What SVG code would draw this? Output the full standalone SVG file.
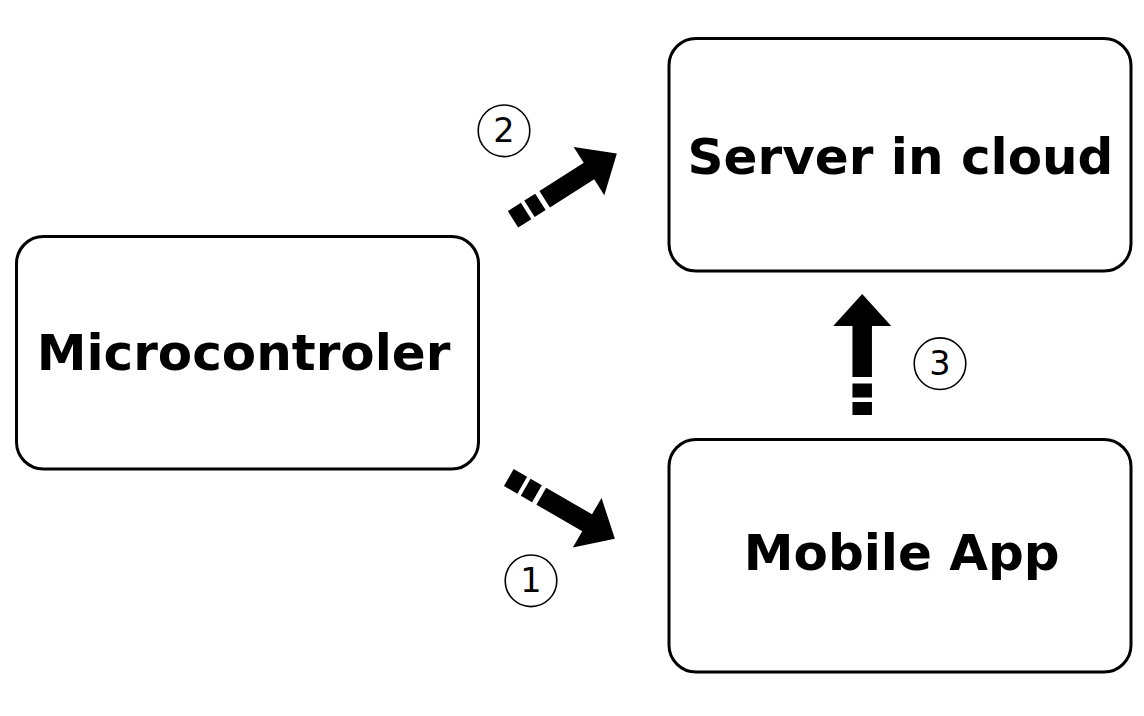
<svg xmlns="http://www.w3.org/2000/svg" width="1144" height="716" viewBox="0 0 1144 716">
<style>
.box{fill:#fff;stroke:#000;stroke-width:3}
.lbl{font-family:"DejaVu Sans",sans-serif;font-weight:bold;font-size:50px;text-anchor:middle;fill:#000}
.ring{fill:none;stroke:#000;stroke-width:1.6}
.num{font-family:"DejaVu Sans",sans-serif;font-size:33.5px;text-anchor:middle;fill:#000}
.shaft{fill:none;stroke:#000;stroke-width:19.5}
</style>
<rect width="1144" height="716" fill="#fff"/>
<g id="server"><rect class="box" x="669" y="38.5" width="462" height="232.5" rx="27"/><text class="lbl" x="900.5" y="174.3">Server in cloud</text></g>
<g id="micro"><rect class="box" x="16.5" y="236.5" width="462" height="232.5" rx="27"/><text class="lbl" x="243.5" y="370">Microcontroler</text></g>
<g id="mobile"><rect class="box" x="669" y="439.5" width="462" height="232.5" rx="27"/><text class="lbl" x="901.7" y="570">Mobile App</text></g>
<g id="connectors">
<g transform="translate(513,219.3) rotate(-32.4)">
<path class="shaft" d="M91,0 H0" stroke-dasharray="53.5 5 13 4 15.5 20"/>
<polygon points="123,0 90,-28.6 90,28.6"/>
</g>
<g transform="translate(508.8,477.5) rotate(30)">
<path class="shaft" d="M91,0 H0" stroke-dasharray="53.5 5 13 4 15.5 20"/>
<polygon points="122.5,0 90.5,-28.7 90.5,28.7"/>
</g>
<g transform="translate(862.2,415) rotate(-90)">
<path class="shaft" d="M90,0 H0" stroke-dasharray="52 6.5 14 4.5 13 20"/>
<polygon points="121,0 89,-29 89,29"/>
</g>
</g>
<g id="labels">
<circle class="ring" cx="504" cy="130.8" r="25.8"/><text class="num" x="504" y="142.3">2</text>
<circle class="ring" cx="531" cy="580.8" r="25.8"/><text class="num" x="531" y="591.5">1</text>
<circle class="ring" cx="940" cy="363.7" r="25.8"/><text class="num" x="940" y="375">3</text>
</g>
</svg>
